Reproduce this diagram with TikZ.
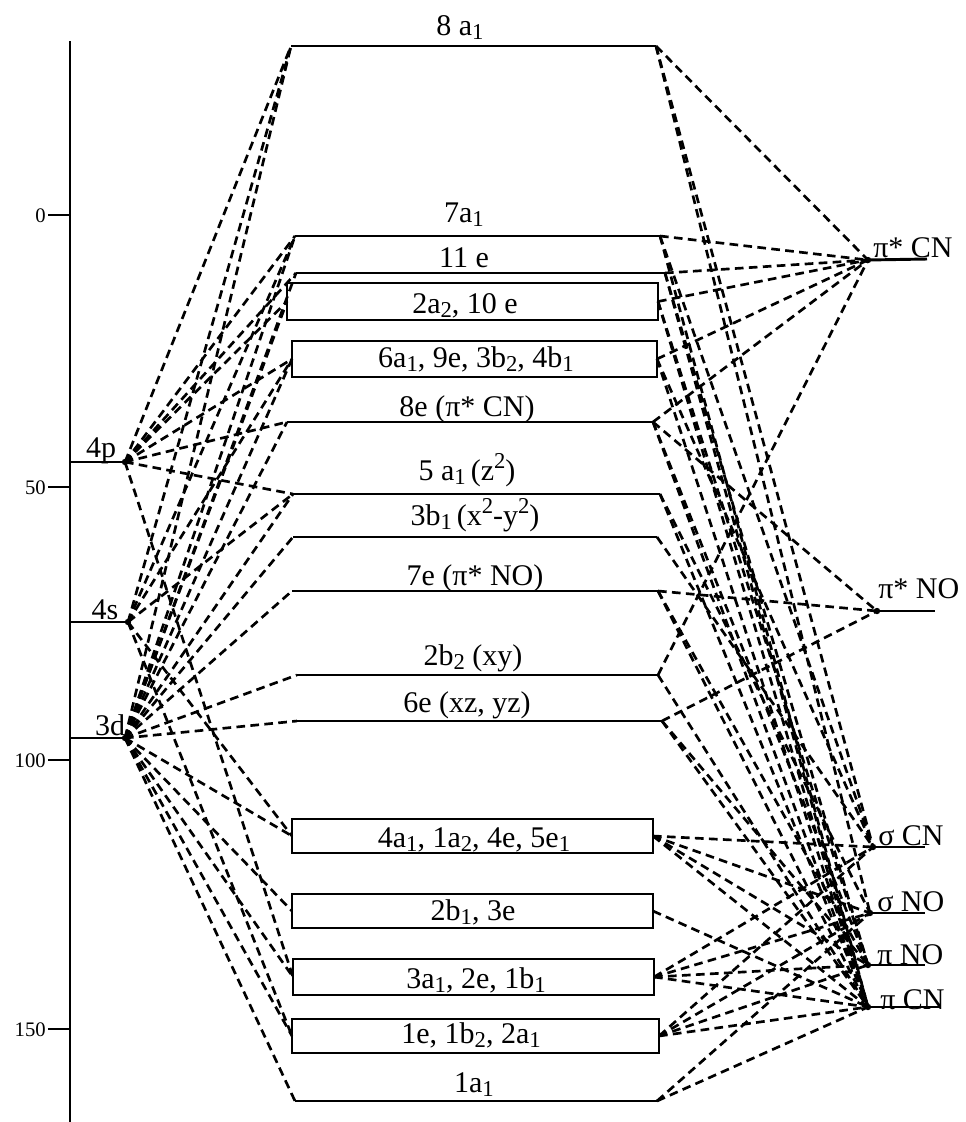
\documentclass[tikz,border=0pt]{standalone}
\usepackage{fontspec}
\setmainfont{Liberation Serif}
\newcommand{\lo}[1]{\raisebox{-0.3ex}{\fontsize{17}{17}\selectfont #1}}
\newcommand{\hi}[1]{\raisebox{0.85ex}{\fontsize{17}{17}\selectfont #1}}
\begin{document}
\begin{tikzpicture}[x=0.75pt,y=-0.75pt,
  lvl/.style={line width=2.2pt},
  dl/.style={line width=2pt,dash pattern=on 6.5pt off 4pt},
  lab/.style={font=\fontsize{22.5}{24}\selectfont,inner sep=0pt,anchor=base},
  llab/.style={font=\fontsize{22.5}{24}\selectfont,inner sep=0pt,anchor=base west},
  tlab/.style={font=\fontsize{15.5}{16}\selectfont,inner sep=0pt,anchor=base east},
  dot/.style={fill=black}]
\useasboundingbox (0,0) rectangle (966,1122);
% axis
\coordinate (axT) at (70,41); \coordinate (axB) at (70,1122);
\draw[lvl] (axT) -- (axB);
\foreach \y/\t in {215/0,487/50,760/100,1029/150}{
  \draw[lvl] (48,\y) -- (70,\y);
  \node[tlab] (tk\t) at (46,\y+7) {\t};
}
% metal levels
\coordinate (x4p) at (70,462); \coordinate (m4p) at (125,462);
\coordinate (x4s) at (70,622); \coordinate (m4s) at (128,622);
\coordinate (x3d) at (70,738); \coordinate (m3d) at (125,738);
\draw[lvl] (x4p) -- (m4p); \draw[lvl] (x4s) -- (m4s); \draw[lvl] (x3d) -- (m3d);
\node[lab] (l4p) at (101,457) {4p};
\node[lab] (l4s) at (105,619) {4s};
\node[lab] (l3d) at (110,735) {3d};
% MO levels (lines)
\foreach \n/\xl/\xr/\y in {a8/291/656/46, a7/295/660/236, e11/296/665/273, e8/287/653/422,
  a5/293/660/494, b3/293/657/537, e7/292/658/591, b2/297/658/675, e6/297/662/721, a1/295/657/1101}{
  \coordinate (\n L) at (\xl,\y); \coordinate (\n R) at (\xr,\y);
  \draw[lvl] (\n L) -- (\n R);
}
% MO boxes
\foreach \n/\xl/\xr/\yt/\yb in {bxA/287/658/283/320, bxB/292/657/341/377, bxC/292/653/819/853,
  bxD/292/653/894/928, bxE/293/654/959/995, bxF/292/659/1019/1053}{
  \draw[lvl] (\xl,\yt) rectangle (\xr,\yb);
  \coordinate (\n L) at (\xl,{(\yt+\yb)/2}); \coordinate (\n R) at (\xr,{(\yt+\yb)/2});
}
% MO labels
\node[lab] (n8a1) at (460,35) {8 a\lo{1}};
\node[lab] (n7a1) at (464,222) {7a\lo{1}};
\node[lab] (n11e) at (464,267) {11 e};
\node[lab] (nbA) at (465,313) {2a\lo{2}, 10 e};
\node[lab] (nbB) at (476,367) {6a\lo{1}, 9e, 3b\lo{2}, 4b\lo{1}};
\node[lab] (n8e) at (467,416) {8e (π* CN)};
\node[lab] (n5a1) at (467,480) {5 a\lo{1}\,(z\hi{2})};
\node[lab] (n3b1) at (475,525) {3b\lo{1}\,(x\hi{2}-y\hi{2})};
\node[lab] (n7e) at (475,585) {7e (π* NO)};
\node[lab] (n2b2) at (473,665) {2b\lo{2} (xy)};
\node[lab] (n6e) at (467,712) {6e (xz, yz)};
\node[lab] (nbC) at (474,847) {4a\lo{1}, 1a\lo{2}, 4e, 5e\lo{1}};
\node[lab] (nbD) at (473,920) {2b\lo{1}, 3e};
\node[lab] (nbE) at (476,988) {3a\lo{1}, 2e, 1b\lo{1}};
\node[lab] (nbF) at (471,1043) {1e, 1b\lo{2}, 2a\lo{1}};
\node[lab] (n1a1) at (474,1092) {1a\lo{1}};
% ligand levels
\coordinate (pcnS) at (868,260); \coordinate (pcnSe) at (927,259);
\coordinate (pnoS) at (877,611); \coordinate (pnoSe) at (935,611);
\coordinate (scn) at (873,847);  \coordinate (scne) at (925,847);
\coordinate (sno) at (870,913);  \coordinate (snoe) at (925,913);
\coordinate (pno) at (868,965);  \coordinate (pnoe) at (925,965);
\coordinate (pcn) at (868,1007); \coordinate (pcne) at (940,1007);
\foreach \a/\b in {pcnS/pcnSe,pnoS/pnoSe,scn/scne,sno/snoe,pno/pnoe,pcn/pcne}{
  \draw[lvl] (\a) -- (\b);
}
\node[llab] (lpcnS) at (873,257) {π* CN};
\node[llab] (lpnoS) at (878,598) {π* NO};
\node[llab] (lscn) at (878,845) {σ CN};
\node[llab] (lsno) at (877,911) {σ NO};
\node[llab] (lpno) at (877,964) {π NO};
\node[llab] (lpcn) at (880,1009) {π CN};
% left connectors
\foreach \t in {a8L,a7L,e11L,bxAL,bxBL,e8L,a5L,bxEL} \draw[dl] (m4p) -- (\t);
\foreach \t in {a8L,a7L,bxBL,a5L,bxCL,bxFL} \draw[dl] (m4s) -- (\t);
\foreach \t in {a8L,a7L,e11L,bxAL,bxBL,e8L,a5L,b3L,e7L,b2L,e6L,bxCL,bxDL,bxEL,bxFL,a1L} \draw[dl] (m3d) -- (\t);
% right connectors
\foreach \t in {a8R,a7R,e11R,bxAR,bxBR,e8R,b2R} \draw[dl] (\t) -- (pcnS);
\foreach \t in {e8R,e7R,e6R} \draw[dl] (\t) -- (pnoS);
\foreach \t in {a8R,a7R,bxBR,b3R,bxCR,bxER,bxFR} \draw[dl] (\t) -- (scn);
\foreach \t in {a8R,a5R,bxCR,bxER,bxFR,a1R} \draw[dl] (\t) -- (sno);
\foreach \t in {e11R,bxAR,e8R,e7R,e6R,bxCR,bxER,bxFR} \draw[dl] (\t) -- (pno);
\foreach \t in {a7R,e11R,bxAR,bxBR,e8R,a5R,e7R,b2R,e6R,bxCR,bxDR,bxER,bxFR,a1R} \draw[dl] (\t) -- (pcn);
% dots
\foreach \p in {m4p,m4s,m3d,pcnS,pnoS,scn,sno,pno,pcn} \fill[dot] (\p) circle[radius=2.4pt];
\end{tikzpicture}
\end{document}
